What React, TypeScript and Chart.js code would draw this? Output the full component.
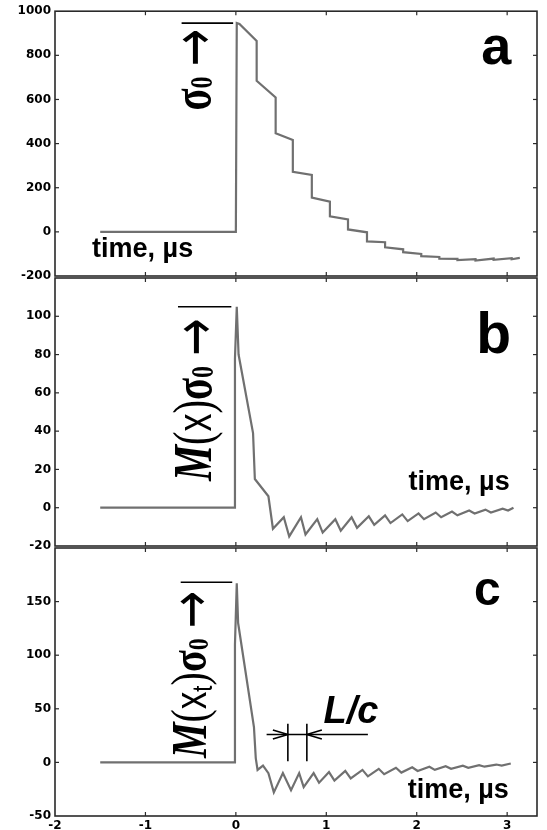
import React, { useEffect, useRef } from 'react';
import { Chart, registerables } from 'chart.js';

Chart.register(...registerables);

// ---------- data ----------
const timeA = [-1.5, 0, 0.01, 0.04, 0.23, 0.23, 0.44, 0.44, 0.63, 0.63, 0.84, 0.84, 1.04, 1.04, 1.24, 1.24, 1.45, 1.45, 1.65, 1.65, 1.85, 1.85, 2.05, 2.05, 2.25, 2.25, 2.45, 2.45, 2.65, 2.65, 2.85, 2.85, 3.05, 3.05, 3.14];
const stressA = [0, 0, 946, 942, 865, 685, 609, 447, 416, 272, 258, 155, 137, 70, 56, 11, -2, -43, -47, -70, -79, -92, -100, -110, -114, -121, -122, -128, -124, -130, -121, -127, -119, -124, -118];

const timeB = [-1.5, -0.015, -0.01, 0.01, 0.03, 0.19, 0.21, 0.36, 0.41, 0.53, 0.59, 0.72, 0.77, 0.9, 0.96, 1.1, 1.16, 1.28, 1.34, 1.47, 1.53, 1.65, 1.71, 1.84, 1.9, 2.02, 2.08, 2.21, 2.27, 2.39, 2.45, 2.58, 2.64, 2.76, 2.82, 2.95, 3.01, 3.07];
const stressB = [0, 0, 78, 105, 80, 39, 15, 6, -11, -5, -15, -5, -14, -6, -13, -6, -12, -5, -10.5, -4.5, -9, -4, -8, -3.5, -7, -3, -6, -2.5, -5, -2, -4, -1.5, -3, -1, -2.5, -0.5, -1.5, 0];

const timeC = [-1.5, -0.015, -0.01, 0.01, 0.025, 0.2, 0.22, 0.24, 0.3, 0.36, 0.42, 0.52, 0.61, 0.7, 0.75, 0.86, 0.92, 1.03, 1.09, 1.21, 1.27, 1.4, 1.46, 1.58, 1.64, 1.77, 1.83, 1.95, 2.01, 2.14, 2.2, 2.32, 2.38, 2.51, 2.57, 2.69, 2.75, 2.88, 2.94, 3.04];
const stressC = [0, 0, 110, 167, 130, 33, 4, -7, -3, -10, -28, -10, -26, -10, -23, -10, -19, -9, -17, -8, -15, -7, -13, -6, -11, -5, -9.5, -4.5, -8, -4, -7, -3.5, -6, -3, -5, -2.5, -4, -2, -3, -1];

const xTickValues = [-2, -1, 0, 1, 2, 3];
const yTicksA = [-200, 0, 200, 400, 600, 800, 1000];
const yTicksB = [-20, 0, 20, 40, 60, 80, 100];
const yTicksC = [-50, 0, 50, 100, 150];

const X_MIN = -2;
const X_MAX = 3.33;

// ---------- drawing helpers ----------
type Seg = { t: string; font: string; dy?: number };

function drawRotated(ctx: CanvasRenderingContext2D, x: number, y: number, segs: Seg[], sx: number) {
  ctx.save();
  ctx.translate(x, y);
  ctx.rotate(-Math.PI / 2);
  ctx.scale(sx, 1);
  ctx.textAlign = 'left';
  ctx.textBaseline = 'alphabetic';
  ctx.fillStyle = '#000';
  let cx = 0;
  for (const s of segs) {
    ctx.font = s.font;
    ctx.fillText(s.t, cx, s.dy || 0);
    cx += ctx.measureText(s.t).width;
  }
  ctx.restore();
}

function P(chart: any, x: number, y: number): [number, number] {
  return [chart.scales.x.getPixelForValue(x), chart.scales.y.getPixelForValue(y)];
}

function seg(ctx: CanvasRenderingContext2D, a: [number, number], b: [number, number]) {
  ctx.beginPath();
  ctx.moveTo(a[0], a[1]);
  ctx.lineTo(b[0], b[1]);
  ctx.stroke();
}

function text(ctx: CanvasRenderingContext2D, s: string, p: [number, number], font: string, align: CanvasTextAlign) {
  ctx.save();
  ctx.font = font;
  ctx.textAlign = align;
  ctx.textBaseline = 'alphabetic';
  ctx.fillStyle = '#000';
  ctx.fillText(s, p[0], p[1]);
  ctx.restore();
}

const SERIF = '"Liberation Serif"';
const SANS = '"Liberation Sans"';
const ARROW = '"DejaVu Sans"';
const TIME_FONT = `bold 27px ${SANS}`;

const framePlugin = {
  id: 'frameTicks',
  afterDatasetsDraw(chart: any) {
    const { ctx, chartArea } = chart;
    const { left, right, top, bottom } = chartArea;
    const xs = chart.scales.x;
    const ys = chart.scales.y;
    ctx.save();
    ctx.strokeStyle = '#2a2a2a';
    ctx.lineWidth = 1.6;
    ctx.strokeRect(left, top, right - left, bottom - top);
    ctx.lineWidth = 1.2;
    const L = 4;
    xs.ticks.forEach((t: any) => {
      const p = xs.getPixelForValue(t.value);
      if (p <= left + 2 || p >= right - 2) return;
      seg(ctx, [p, bottom], [p, bottom - L]);
      seg(ctx, [p, top], [p, top + L]);
    });
    ys.ticks.forEach((t: any) => {
      const p = ys.getPixelForValue(t.value);
      if (p <= top + 2 || p >= bottom - 2) return;
      seg(ctx, [left, p], [left + L, p]);
      seg(ctx, [right, p], [right - L, p]);
    });
    ctx.restore();
  },
};

function drawA(chart: any, ctx: CanvasRenderingContext2D) {
  ctx.save();
  ctx.strokeStyle = '#000';
  ctx.lineWidth = 1.6;
  seg(ctx, P(chart, -0.6, 946), P(chart, -0.03, 946));
  ctx.restore();
  const a = P(chart, -0.29, 550);
  drawRotated(ctx, a[0], a[1], [
    { t: 'σ', font: `bold 54px ${SERIF}` },
    { t: '0', font: `bold 32px ${SERIF}`, dy: 2 },
    { t: ' ', font: `54px ${SERIF}` },
    { t: '→', font: `60px ${ARROW}`, dy: 4 },
  ], 0.75);
  text(ctx, 'time, µs', P(chart, -1.59, -115), TIME_FONT, 'left');
  text(ctx, 'a', P(chart, 2.88, 762), `bold 54px ${SANS}`, 'center');
}

function drawB(chart: any, ctx: CanvasRenderingContext2D) {
  ctx.save();
  ctx.strokeStyle = '#000';
  ctx.lineWidth = 1.6;
  seg(ctx, P(chart, -0.64, 105), P(chart, -0.05, 105));
  ctx.restore();
  const a = P(chart, -0.28, 14);
  drawRotated(ctx, a[0], a[1], [
    { t: 'M', font: `italic bold 54px ${SERIF}` },
    { t: '(', font: `54px ${SERIF}` },
    { t: 'x', font: `48px ${SANS}` },
    { t: ')', font: `54px ${SERIF}` },
    { t: 'σ', font: `bold 54px ${SERIF}` },
    { t: '0', font: `bold 32px ${SERIF}`, dy: 2 },
    { t: ' ', font: `54px ${SERIF}` },
    { t: '→', font: `60px ${ARROW}`, dy: 4 },
  ], 0.75);
  text(ctx, 'time, µs', P(chart, 1.91, 9.5), TIME_FONT, 'left');
  text(ctx, 'b', P(chart, 2.85, 81), `bold 57px ${SANS}`, 'center');
}

function drawC(chart: any, ctx: CanvasRenderingContext2D) {
  ctx.save();
  ctx.strokeStyle = '#000';
  ctx.lineWidth = 1.6;
  seg(ctx, P(chart, -0.61, 168), P(chart, -0.04, 168));
  // L/c marker
  seg(ctx, P(chart, 0.34, 26), P(chart, 1.46, 26));
  seg(ctx, P(chart, 0.575, 36), P(chart, 0.575, 1));
  seg(ctx, P(chart, 0.785, 36), P(chart, 0.785, 1));
  const t1 = P(chart, 0.575, 26);
  const t2 = P(chart, 0.785, 26);
  ctx.beginPath();
  ctx.moveTo(t1[0] - 15, t1[1] - 4.5);
  ctx.lineTo(t1[0], t1[1]);
  ctx.lineTo(t1[0] - 15, t1[1] + 4.5);
  ctx.moveTo(t2[0] + 15, t2[1] - 4.5);
  ctx.lineTo(t2[0], t2[1]);
  ctx.lineTo(t2[0] + 15, t2[1] + 4.5);
  ctx.stroke();
  ctx.restore();
  const a = P(chart, -0.33, 4);
  drawRotated(ctx, a[0], a[1], [
    { t: 'M', font: `italic bold 50px ${SERIF}` },
    { t: '(', font: `50px ${SERIF}` },
    { t: 'x', font: `44px ${SANS}` },
    { t: 't', font: `28px ${SANS}`, dy: 6 },
    { t: ')', font: `50px ${SERIF}` },
    { t: 'σ', font: `bold 50px ${SERIF}` },
    { t: '0', font: `bold 30px ${SERIF}`, dy: 2 },
    { t: ' ', font: `50px ${SERIF}` },
    { t: '→', font: `56px ${ARROW}`, dy: 4 },
  ], 0.8);
  text(ctx, 'L/c', P(chart, 0.97, 37), `italic bold 38px ${SANS}`, 'left');
  text(ctx, 'time, µs', P(chart, 1.9, -33), TIME_FONT, 'left');
  text(ctx, 'c', P(chart, 2.78, 147), `bold 48px ${SANS}`, 'center');
}

interface PanelSpec {
  top: number;
  height: number;
  padTop: number;
  padBottom: number;
  time: number[];
  values: number[];
  yMin: number;
  yMax: number;
  yTicks: number[];
  showX: boolean;
  draw: (chart: any, ctx: CanvasRenderingContext2D) => void;
}

const panels: PanelSpec[] = [
  { top: 0, height: 290, padTop: 10, padBottom: 14, time: timeA, values: stressA, yMin: -200, yMax: 1000, yTicks: yTicksA, showX: false, draw: drawA },
  { top: 266, height: 292, padTop: 12, padBottom: 12, time: timeB, values: stressB, yMin: -20, yMax: 120, yTicks: yTicksB, showX: false, draw: drawB },
  { top: 536, height: 294, padTop: 12, padBottom: 0, time: timeC, values: stressC, yMin: -50, yMax: 200, yTicks: yTicksC, showX: true, draw: drawC },
];

const tickFont = { family: '"DejaVu Sans"', weight: 'bold' as const, size: 12 };

function Panel({ spec }: { spec: PanelSpec }) {
  const ref = useRef<HTMLCanvasElement>(null);
  useEffect(() => {
    if (!ref.current) return;
    const annPlugin = {
      id: 'annotations',
      afterDatasetsDraw(chart: any) {
        spec.draw(chart, chart.ctx);
      },
    };
    const chart = new Chart(ref.current, {
      type: 'line',
      data: {
        datasets: [
          {
            data: spec.time.map((t, i) => ({ x: t, y: spec.values[i] })),
            borderColor: '#707070',
            borderWidth: 2.2,
            pointRadius: 0,
            tension: 0,
            fill: false,
          },
        ],
      },
      options: {
        responsive: false,
        animation: false,
        devicePixelRatio: 1,
        layout: { padding: { left: 0, right: 10, top: spec.padTop, bottom: spec.padBottom } },
        plugins: { legend: { display: false }, tooltip: { enabled: false } },
        scales: {
          x: {
            type: 'linear',
            min: X_MIN,
            max: X_MAX,
            grid: { display: false, drawTicks: false },
            border: { display: false },
            ticks: {
              display: spec.showX,
              font: tickFont,
              color: '#000',
              padding: 3,
              maxRotation: 0,
              autoSkip: false,
              callback: (v: any) => String(v),
            },
            afterBuildTicks: (s: any) => {
              s.ticks = xTickValues.map((v) => ({ value: v }));
            },
            afterFit: (s: any) => {
              s.height = spec.showX ? 14 : 0;
            },
          },
          y: {
            type: 'linear',
            min: spec.yMin,
            max: spec.yMax,
            grid: { display: false, drawTicks: false },
            border: { display: false },
            ticks: {
              font: tickFont,
              color: '#000',
              padding: 4,
              autoSkip: false,
              callback: (v: any) => String(v),
            },
            afterBuildTicks: (s: any) => {
              s.ticks = spec.yTicks.map((v) => ({ value: v }));
            },
            afterFit: (s: any) => {
              s.width = 55;
            },
          },
        },
      } as any,
      plugins: [framePlugin, annPlugin],
    });
    return () => chart.destroy();
  }, []);
  return (
    <canvas
      ref={ref}
      width={547}
      height={spec.height}
      style={{ position: 'absolute', left: 0, top: spec.top, width: 547, height: spec.height }}
    />
  );
}

export default function App() {
  return (
    <div style={{ position: 'fixed', left: 0, top: 0, width: 547, height: 830, background: '#fff', overflow: 'hidden' }}>
      {panels.map((p, i) => (
        <Panel key={i} spec={p} />
      ))}
    </div>
  );
}
